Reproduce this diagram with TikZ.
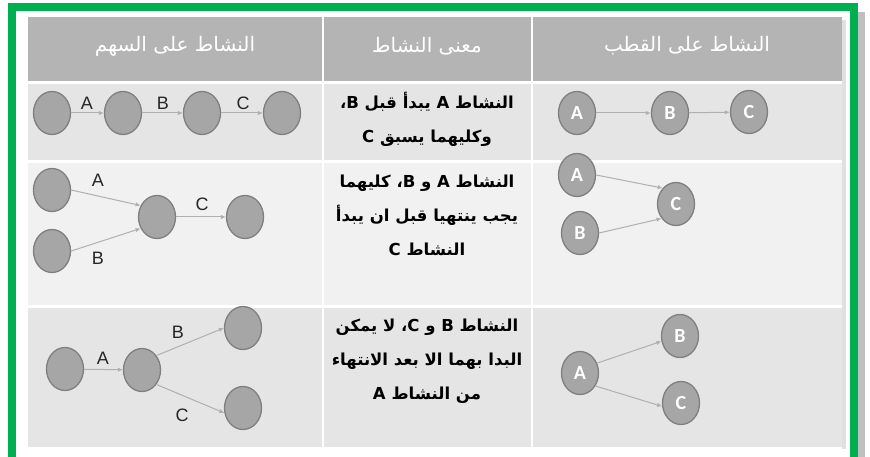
\documentclass[tikz,border=0pt]{standalone}
\usepackage{fontspec}
\setmainfont{Liberation Sans}
\newfontfamily\arabicfont[Script=Arabic]{DejaVu Sans}
\newfontfamily\calfont{Carlito}
\TeXXeTstate=1
\usetikzlibrary{shapes.geometric,arrows.meta}
\definecolor{frameGreen}{HTML}{00B050}
\definecolor{hdrGray}{HTML}{B4B4B4}
\definecolor{rowDark}{HTML}{E5E5E5}
\definecolor{rowLight}{HTML}{F1F1F1}
\definecolor{circFill}{HTML}{A6A6A6}
\definecolor{circBorder}{HTML}{7F7F7F}
\definecolor{arrowGray}{HTML}{B0B0B0}
\definecolor{labelDark}{HTML}{262626}
\tikzset{
  ev/.style={ellipse, draw=circBorder, fill=circFill, line width=1.3pt,
    minimum width=37pt, minimum height=43pt, inner sep=0pt},
  evl/.style={ev, text=white, font=\calfont\bfseries\fontsize{20}{20}\selectfont},
  arr/.style={draw=arrowGray, line width=1pt, -{Latex[length=5pt,width=4.5pt]}},
  lbl/.style={font=\fontsize{18}{18}\selectfont, text=labelDark, inner sep=0pt},
  mid/.style={font=\arabicfont\bfseries\fontsize{16.5}{34}\selectfont, align=center, text=black},
  hdr/.style={font=\arabicfont\fontsize{20}{20}\selectfont, text=white}
}
\begin{document}
\begin{tikzpicture}[x=1pt,y=-1pt]
\useasboundingbox (0,0) rectangle (870,457);
\fill[white] (0,0) rectangle (870,457);
% shadow and frame
\fill[black!25] (858,12) rectangle (865,470);
\draw[frameGreen, line width=8pt] (12,470) -- (12,7) -- (854,7) -- (854,470);
% table cells
\fill[black!12] (842,20) rectangle (846,449);
\fill[hdrGray] (28,17) rectangle (842,81);
\fill[rowDark] (28,84) rectangle (842,160);
\fill[rowLight] (28,163) rectangle (842,305);
\fill[rowDark] (28,308) rectangle (842,447);
\draw[white, line width=2pt] (323,17) -- (323,447);
\draw[white, line width=2pt] (532,17) -- (532,447);
% header
\node[hdr] (h1) at (175,46) {\beginR النشاط على السهم\endR};
\node[hdr] (h2) at (427,46) {\beginR معنى النشاط\endR};
\node[hdr] (h3) at (687,46) {\beginR النشاط على القطب\endR};
% middle column
\node[mid] (m1) at (427,119) {\beginR النشاط A يبدأ قبل B\kern0pt،\endR\\\beginR وكليهما يسبق C\endR};
\node[mid] (m2) at (427,215) {\beginR النشاط A و B\kern0pt، كليهما\endR\\\beginR يجب ينتهيا قبل ان يبدأ\endR\\\beginR النشاط C\endR};
\node[mid] (m3) at (427,361) {\beginR النشاط B و C\kern0pt، لا يمكن\endR\\\beginR البدا بهما الا بعد الانتهاء\endR\\\beginR من النشاط A\endR};
% left column row 1
\node[ev] (L1a) at (52,113) {};
\node[ev] (L1b) at (123,113) {};
\node[ev] (L1c) at (202,113) {};
\node[ev] (L1d) at (282,113) {};
\draw[arr] (L1a) -- (L1b);
\draw[arr] (L1b) -- (L1c);
\draw[arr] (L1c) -- (L1d);
\node[lbl] (l1A) at (87,103) {A};
\node[lbl] (l1B) at (163,103) {B};
\node[lbl] (l1C) at (243,103) {C};
% left column row 2
\node[ev] (L2a) at (52,190) {};
\node[ev] (L2b) at (52,251) {};
\node[ev] (L2c) at (157,217) {};
\node[ev] (L2d) at (245,217) {};
\draw[arr] (L2a.east) -- (L2c.145);
\draw[arr] (L2b.east) -- (L2c.215);
\draw[arr] (L2c) -- (L2d);
\node[lbl] (l2A) at (98,180) {A};
\node[lbl] (l2B) at (98,258) {B};
\node[lbl] (l2C) at (202,204) {C};
% left column row 3
\node[ev] (L3a) at (65,369) {};
\node[ev] (L3b) at (142,370) {};
\node[ev] (L3c) at (243,328) {};
\node[ev] (L3d) at (243,408) {};
\draw[arr] (L3a) -- (L3b);
\draw[arr] (L3b.45) -- (L3c.west);
\draw[arr] (L3b.-45) -- (L3d.195);
\node[lbl] (l3A) at (103,358) {A};
\node[lbl] (l3B) at (178,332) {B};
\node[lbl] (l3C) at (182,415) {C};
% right column row 1
\node[evl] (R1a) at (577,113) {A};
\node[evl] (R1b) at (670,113) {B};
\node[evl] (R1c) at (749,112) {C};
\draw[arr] (R1a) -- (R1b);
\draw[arr] (R1b) -- (R1c);
% right column row 2
\node[evl] (R2a) at (577,175) {A};
\node[evl] (R2b) at (580,233) {B};
\node[evl] (R2c) at (676,204) {C};
\draw[arr] (R2a.east) -- (R2c.130);
\draw[arr] (R2b.east) -- (R2c.225);
% right column row 3
\node[evl] (R3a) at (580,373) {A};
\node[evl] (R3b) at (680,336) {B};
\node[evl] (R3c) at (681,403) {C};
\draw[arr] (R3a.30) -- (R3b.196);
\draw[arr] (R3a.-40) -- (R3c.190);
\end{tikzpicture}
\end{document}
